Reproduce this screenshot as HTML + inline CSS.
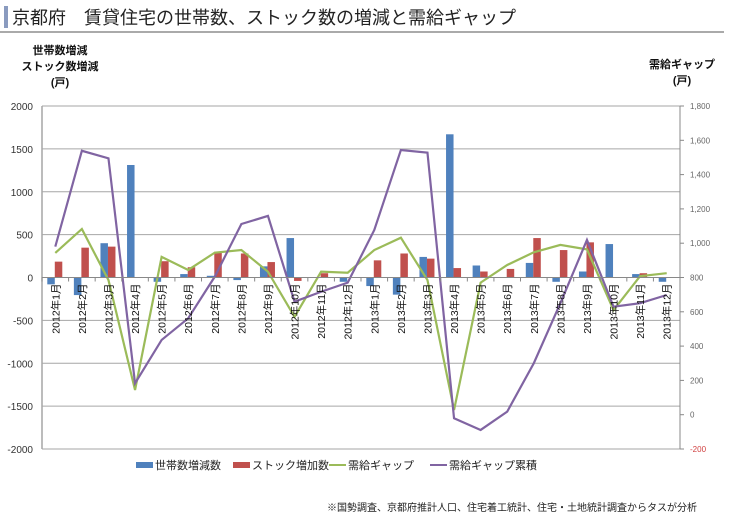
<!DOCTYPE html>
<html><head><meta charset="utf-8"><style>
body{margin:0;background:#fff;font-family:"Liberation Sans","Noto Sans CJK JP",sans-serif;}
svg text{font-family:"Liberation Sans","Noto Sans CJK JP",sans-serif;}
</style></head><body>
<svg id="chart" width="737" height="516" viewBox="0 0 737 516" xmlns="http://www.w3.org/2000/svg">
<rect x="4" y="6" width="4" height="22" fill="#8a9bbf"/>
<text x="12" y="24" font-size="18" fill="#222">京都府　賃貸住宅の世帯数、ストック数の増減と需給ギャップ</text>
<line x1="0" y1="32" x2="724" y2="32" stroke="#555" stroke-width="1"/>
<g font-size="11" font-weight="bold" fill="#111" text-anchor="middle">
<text x="60" y="54">世帯数増減</text><text x="60" y="70">ストック数増減</text><text x="60" y="86">(戸)</text></g>
<g font-size="11" font-weight="bold" fill="#111" text-anchor="middle">
<text x="682" y="68">需給ギャップ</text><text x="682" y="84">(戸)</text></g>
<g id="grid"></g><g id="bars"></g><g id="lines"></g><g id="axes"></g>
<g font-size="11" fill="#222">
<g><rect x="136" y="462" width="17" height="6" fill="#4f81bd"/><text x="155" y="469">世帯数増減数</text></g>
<g><rect x="233" y="462" width="17" height="6" fill="#c0504d"/><text x="252" y="469">ストック増加数</text></g>
<g><line x1="329" y1="465" x2="346" y2="465" stroke="#9bbb59" stroke-width="2"/><text x="348" y="469">需給ギャップ</text></g>
<g><line x1="430" y1="465" x2="447" y2="465" stroke="#8064a2" stroke-width="2"/><text x="449" y="469">需給ギャップ累積</text></g>
</g>
<text x="697" y="511" font-size="10" fill="#222" text-anchor="end">※国勢調査、京都府推計人口、住宅着工統計、住宅・土地統計調査からタスが分析</text>
</svg>
<script>
const categories=["2012年1月","2012年2月","2012年3月","2012年4月","2012年5月","2012年6月","2012年7月","2012年8月","2012年9月","2012年10月","2012年11月","2012年12月","2013年1月","2013年2月","2013年3月","2013年4月","2013年5月","2013年6月","2013年7月","2013年8月","2013年9月","2013年10月","2013年11月","2013年12月"];
const households=[-80,-205,400,1312,-50,40,20,-30,130,460,0,-50,-100,-200,240,1670,140,0,170,-50,70,390,40,-50];
const stock=[185,348,360,0,190,120,300,280,180,-40,50,0,200,280,220,110,70,100,460,320,410,0,50,0];
const gap=[943,1083,785,144,920,844,945,960,834,571,834,828,960,1032,785,27,770,873,947,990,964,610,808,825];
const cumulative=[980,1539,1495,183,436,562,805,1112,1159,659,717,770,1077,1543,1528,-21,-89,18,300,650,1019,630,650,698];
const leftTicks=[2000,1500,1000,500,0,-500,-1000,-1500,-2000];
const rightTicks=["1,800","1,600","1,400","1,200","1,000","800","600","400","200","0","-200"];
const rightTickValues=[1800,1600,1400,1200,1000,800,600,400,200,0,-200];

const NS="http://www.w3.org/2000/svg";
const X0=42,X1=680,Y0=106,Y1=449;
const cw=(X1-X0)/categories.length;
const xc=i=>X0+cw*(i+0.5);
const yL=v=>Y0+(2000-v)/4000*(Y1-Y0);
const yR=v=>Y0+(1800-v)/2000*(Y1-Y0);
function mk(tag,attrs,parent){const e=document.createElementNS(NS,tag);for(const k in attrs)e.setAttribute(k,attrs[k]);document.getElementById(parent).appendChild(e);return e;}

leftTicks.forEach(v=>{
  const g=mk('line',{x1:X0,x2:X1,y1:yL(v),y2:yL(v),stroke:'#a6a6a6','stroke-width':1},'grid');
  
  
  const t=mk('text',{x:33,y:yL(v)+4,'font-size':10,'text-anchor':'end',fill:'#333'},'axes');
  t.textContent=v;
  
  
});
rightTickValues.forEach((v,i)=>{
  const l=mk('line',{x1:X1,x2:X1+4,y1:yR(v),y2:yR(v),stroke:'#888'},'axes');
  
  
  const t=mk('text',{x:X1+10,y:yR(v)+3,'font-size':8,fill:v<0?'#d04040':'#666'},'axes');
  t.textContent=rightTicks[i];
  
  
});
let ax=mk('line',{x1:X0,x2:X0,y1:Y0,y2:Y1,stroke:'#a6a6a6','stroke-width':1.5},'axes');


ax=mk('line',{x1:X1,x2:X1,y1:Y0,y2:Y1,stroke:'#888','stroke-width':1},'axes');



categories.forEach((c,i)=>{
  const b=mk('rect',{x:xc(i)-8,width:7.5,y:Math.min(yL(0),yL(households[i])),height:Math.abs(yL(households[i])-yL(0)),fill:'#4f81bd'},'bars');
  
  
  const r=mk('rect',{x:xc(i)-0.5,width:7.5,y:Math.min(yL(0),yL(stock[i])),height:Math.abs(yL(stock[i])-yL(0)),fill:'#c0504d'},'bars');
  
  
  const tk=mk('line',{x1:X0+cw*i,x2:X0+cw*i,y1:yL(0),y2:yL(0)+4,stroke:'#888'},'axes');
  
  
  const t=mk('text',{x:0,y:0,'font-size':10.5,'text-anchor':'end',fill:'#111',transform:`translate(${xc(i)+4},${yL(0)+6}) rotate(-90)`},'axes');
  t.textContent=c;
  
  
});
const zl=mk('line',{x1:X0,x2:X1,y1:yL(0),y2:yL(0),stroke:'#888'},'axes');



const pg=mk('polyline',{points:gap.map((v,i)=>xc(i)+','+yR(v)).join(' '),fill:'none',stroke:'#9bbb59','stroke-width':2.2},'lines');


const pc=mk('polyline',{points:cumulative.map((v,i)=>xc(i)+','+yR(v)).join(' '),fill:'none',stroke:'#8064a2','stroke-width':2.2},'lines');


</script>
</body></html>
